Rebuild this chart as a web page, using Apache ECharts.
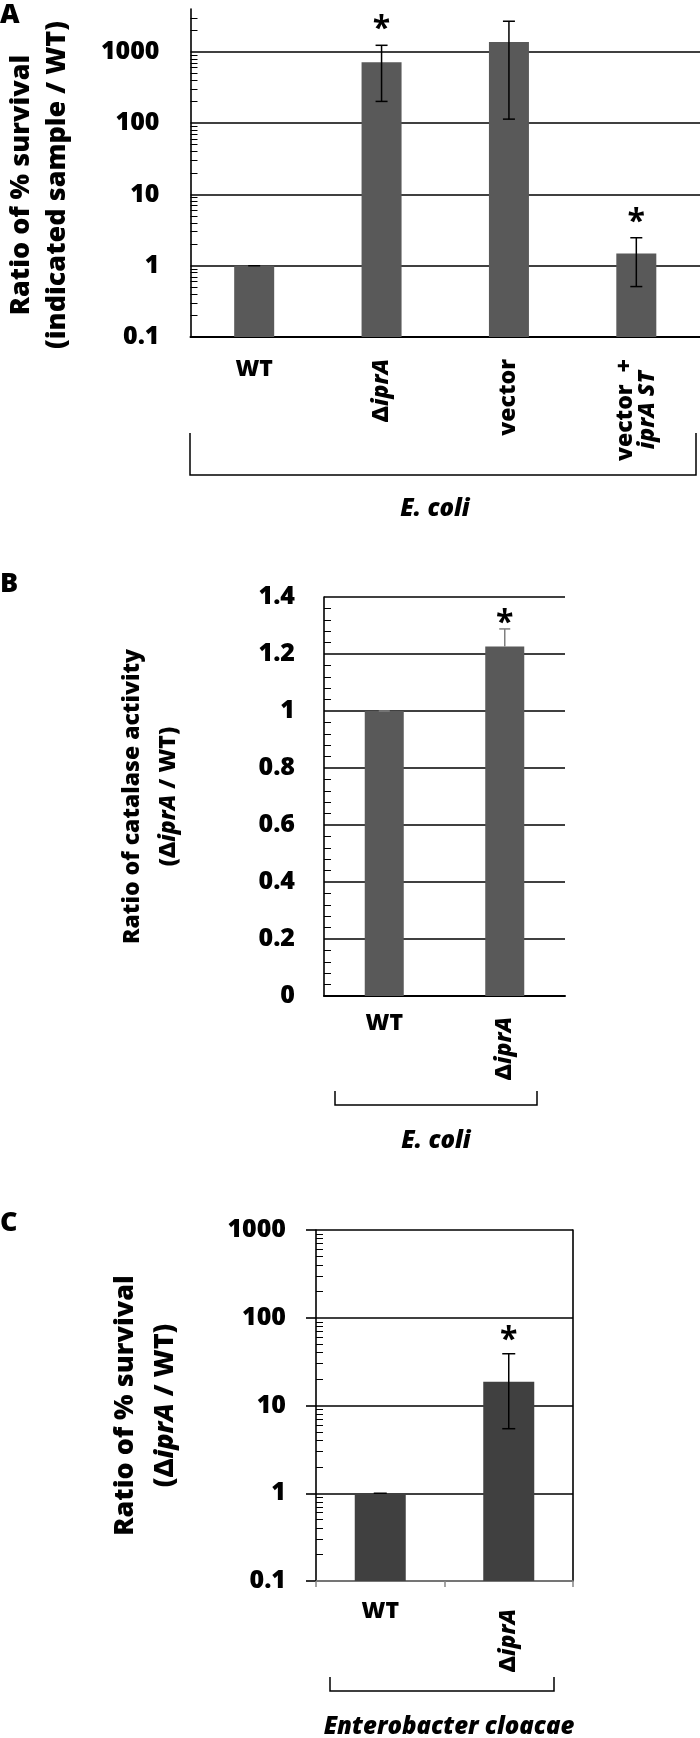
<!DOCTYPE html>
<html><head><meta charset="utf-8">
<script src="https://cdn.jsdelivr.net/npm/echarts@6/dist/echarts.min.js"></script>
<style>html,body{margin:0;padding:0;background:#fff}#c{width:700px;height:1738px}</style>
</head><body><div id="c"></div>
<script>
// ---------- Panel A data ----------
const catsA = ['WT', 'ΔiprA', 'vector', 'vector + iprA ST'];
const valsA = [1, 714, 1381, 1.49];
const lowA = [1, 202, 114, 0.51];
const highA = [1, 1238, 2694, 2.47];
const sigA = [false, true, false, true];
const yTicksA = [0.1, 1, 10, 100, 1000];
const yMaxA = 4000;
// ---------- Panel B data ----------
const catsB = ['WT', 'ΔiprA'];
const valsB = [1, 1.226];
const lowB = [1, 1.226];
const highB = [1, 1.288];
const sigB = [false, true];
const yTicksB = [0, 0.2, 0.4, 0.6, 0.8, 1, 1.2, 1.4];
// ---------- Panel C data ----------
const catsC = ['WT', 'ΔiprA'];
const valsC = [1, 18.7];
const lowC = [1, 5.44];
const highC = [1, 38.9];
const sigC = [false, true];
const yTicksC = [0.1, 1, 10, 100, 1000];

const FONT = '"Open Sans", "Liberation Sans", sans-serif';
const W = 800;
const BLACK = '#000';

function richSet(size, lh) {
  return {
    n: {fontSize: size, fontWeight: W, fontFamily: FONT, color: BLACK, align: 'center', lineHeight: lh},
    i: {fontSize: size, fontWeight: W, fontStyle: 'italic', fontFamily: FONT, color: BLACK, align: 'center', lineHeight: lh}
  };
}
function catRich(cat) {
  if (cat.indexOf(' + ') >= 0) {
    const parts = cat.split(' + ');
    return '{n|' + parts[0] + '  +}\n{i|' + parts[1] + '}';
  }
  if (cat.charAt(0) === 'Δ') return '{n|Δ}{i|' + cat.slice(1) + '}';
  return '{n|' + cat + '}';
}
function tickFmt(ticks) {
  return function (v) {
    const t = ticks.find(function (t) { return Math.abs(t - v) <= Math.abs(t) * 1e-6 + 1e-12; });
    return t === undefined ? '' : String(t);
  };
}
function errData(vals, lo, hi, sig) {
  return vals.map(function (v, i) { return [i, lo[i], hi[i], v, sig[i] ? 1 : 0]; });
}
function errRender(cap, color, width, starGap, starSize) {
  return function (params, api) {
    const i = api.value(0), lo = api.value(1), hi = api.value(2), v = api.value(3), s = api.value(4);
    const pLo = api.coord([i, lo]);
    const pHi = api.coord([i, hi]);
    const x = pHi[0];
    const st = {stroke: color, lineWidth: width};
    const children = [
      {type: 'line', shape: {x1: x, y1: pLo[1], x2: x, y2: pHi[1]}, style: st},
      {type: 'line', shape: {x1: x - cap / 2, y1: pHi[1], x2: x + cap / 2, y2: pHi[1]}, style: st}
    ];
    if (lo < v) children.push({type: 'line', shape: {x1: x - cap / 2, y1: pLo[1], x2: x + cap / 2, y2: pLo[1]}, style: st});
    if (s) children.push({type: 'text', style: {text: '*', x: x, y: pHi[1] - starGap, font: 'bold ' + starSize + 'px ' + FONT, fill: BLACK, align: 'center', verticalAlign: 'middle', textAlign: 'center', textVerticalAlign: 'middle'}});
    return {type: 'group', children: children};
  };
}

const tickLabelStyle = {fontSize: 25, fontWeight: W, fontFamily: FONT, color: BLACK};
const catStyle = {fontSize: 23, fontWeight: W, fontFamily: FONT, color: BLACK};

function xAxesFor(gridIndex, cats, lineColor, showTick, marginH, marginR, lineW) {
  return [
    {gridIndex: gridIndex, type: 'category', data: cats, position: 'bottom',
     axisLine: {show: true, lineStyle: {color: lineColor, width: lineW}},
     axisTick: {show: showTick, length: 6, lineStyle: {color: lineColor, width: 1.5}},
     axisLabel: Object.assign({interval: 0, rotate: 0, margin: marginH,
       formatter: function (v, i) { return i === 0 ? v : ''; }}, catStyle)},
    {gridIndex: gridIndex, type: 'category', data: cats, position: 'bottom',
     axisLine: {show: false}, axisTick: {show: false},
     axisLabel: Object.assign({interval: 0, rotate: 90, margin: marginR,
       formatter: function (v, i) { return i === 0 ? '' : catRich(v); },
       rich: richSet(23, 22)}, catStyle)}
  ];
}

const option = {
  animation: false,
  backgroundColor: '#fff',
  grid: [
    {left: 189, top: 9, width: 512, height: 328},
    {left: 324, top: 597, width: 241, height: 399},
    {left: 316, top: 1230, width: 257, height: 351}
  ],
  xAxis: [].concat(
    xAxesFor(0, catsA, BLACK, false, 21, 22, 2),
    xAxesFor(1, catsB, BLACK, false, 16, 21, 2),
    xAxesFor(2, catsC, '#868686', true, 19, 28, 1.5)
  ),
  yAxis: [
    {gridIndex: 0, type: 'log', logBase: 10, min: yTicksA[0], max: yMaxA, startValue: yTicksA[0],
     axisLine: {show: true, lineStyle: {color: BLACK, width: 1.6}},
     axisTick: {show: false, inside: true},
     minorTick: {show: true, splitNumber: 9, length: 7, lineStyle: {color: BLACK, width: 1}},
     splitLine: {show: true, showMaxLine: false, lineStyle: {color: BLACK, width: 1.6}},
     axisLabel: Object.assign({margin: 31, formatter: tickFmt(yTicksA)}, tickLabelStyle),
     name: '{n|Ratio of % survival}\n{n|(indicated sample / WT)}',
     nameLocation: 'middle', nameRotate: 90, nameGap: 115,
     nameTextStyle: {rich: richSet(27, 36), padding: [0, 24, 0, 0]}},
    {gridIndex: 1, type: 'value', min: yTicksB[0], max: yTicksB[yTicksB.length - 1], interval: 0.2,
     axisLine: {show: true, lineStyle: {color: BLACK, width: 1.6}},
     axisTick: {show: false, inside: true},
     minorTick: {show: true, splitNumber: 5, length: 7, lineStyle: {color: BLACK, width: 1}},
     splitLine: {show: true, lineStyle: {color: BLACK, width: 1.6}},
     axisLabel: Object.assign({margin: 29, formatter: tickFmt(yTicksB)}, tickLabelStyle),
     name: '{n|Ratio of catalase activity}\n{n|(Δ}{i|iprA}{n| / WT)}',
     nameLocation: 'middle', nameRotate: 90, nameGap: 138,
     nameTextStyle: {rich: richSet(23, 36)}},
    {gridIndex: 2, type: 'log', logBase: 10, min: yTicksC[0], max: yTicksC[yTicksC.length - 1], startValue: yTicksC[0],
     axisLine: {show: true, lineStyle: {color: BLACK, width: 1.6}},
     axisTick: {show: true, length: 10, lineStyle: {color: BLACK, width: 1.6}},
     splitLine: {show: true, lineStyle: {color: BLACK, width: 1.6}},
     axisLabel: Object.assign({margin: 30, formatter: tickFmt(yTicksC)}, tickLabelStyle),
     name: '{n|Ratio of % survival}\n{n|(Δ}{i|iprA}{n| / WT)}',
     nameLocation: 'middle', nameRotate: 90, nameGap: 131,
     nameTextStyle: {rich: richSet(27, 40)}},
    {gridIndex: 2, type: 'log', logBase: 10, position: 'left', min: yTicksC[0], max: yTicksC[yTicksC.length - 1],
     axisLine: {show: false}, axisTick: {show: false, inside: true},
     minorTick: {show: true, splitNumber: 9, length: 7, lineStyle: {color: BLACK, width: 1}},
     splitLine: {show: false}, axisLabel: {show: false}},
    {gridIndex: 2, type: 'log', logBase: 10, position: 'right', min: yTicksC[0], max: yTicksC[yTicksC.length - 1],
     axisLine: {show: true, lineStyle: {color: BLACK, width: 1.6}}, axisTick: {show: false},
     splitLine: {show: false}, axisLabel: {show: false}}
  ],
  series: [
    {type: 'bar', xAxisIndex: 0, yAxisIndex: 0, data: valsA, barWidth: 40, itemStyle: {color: '#595959'}},
    {type: 'custom', xAxisIndex: 0, yAxisIndex: 0, data: errData(valsA, lowA, highA, sigA), encode: {x: 0, y: [1, 2]}, z: 5,
     renderItem: errRender(12, BLACK, 1.5, 15, 32)},
    {type: 'bar', xAxisIndex: 2, yAxisIndex: 1, data: valsB, barWidth: 39, itemStyle: {color: '#595959'}},
    {type: 'custom', xAxisIndex: 2, yAxisIndex: 1, data: errData(valsB, lowB, highB, sigB), encode: {x: 0, y: [1, 2]}, z: 5,
     renderItem: errRender(11, '#7f7f7f', 1.5, 5, 32)},
    {type: 'bar', xAxisIndex: 4, yAxisIndex: 2, data: valsC, barWidth: 51, itemStyle: {color: '#404040'}},
    {type: 'custom', xAxisIndex: 4, yAxisIndex: 2, data: errData(valsC, lowC, highC, sigC), encode: {x: 0, y: [1, 2]}, z: 5,
     renderItem: errRender(13, BLACK, 1.5, 13, 32)}
  ],
  graphic: [
    {type: 'text', left: 0, top: 2, style: {text: 'A', font: W + ' 27px ' + FONT, fill: BLACK}},
    {type: 'text', left: 0, top: 571, style: {text: 'B', font: W + ' 27px ' + FONT, fill: BLACK}},
    {type: 'text', left: 0, top: 1210, style: {text: 'C', font: W + ' 27px ' + FONT, fill: BLACK}},
    {type: 'polyline', shape: {points: [[190, 433], [190, 475], [696, 475], [696, 433]]}, style: {stroke: BLACK, lineWidth: 1.5, fill: null}},
    {type: 'polyline', shape: {points: [[335, 1091], [335, 1105], [537, 1105], [537, 1091]]}, style: {stroke: BLACK, lineWidth: 1.5, fill: null}},
    {type: 'polyline', shape: {points: [[330, 1677], [330, 1691], [554, 1691], [554, 1677]]}, style: {stroke: BLACK, lineWidth: 1.5, fill: null}},
    {type: 'text', x: 435, y: 509, style: {text: 'E. coli', font: 'italic ' + W + ' 24px ' + FONT, fill: BLACK, textAlign: 'center', textVerticalAlign: 'middle', align: 'center', verticalAlign: 'middle'}},
    {type: 'text', x: 436, y: 1141, style: {text: 'E. coli', font: 'italic ' + W + ' 24px ' + FONT, fill: BLACK, textAlign: 'center', textVerticalAlign: 'middle', align: 'center', verticalAlign: 'middle'}},
    {type: 'text', x: 449, y: 1727, style: {text: 'Enterobacter cloacae', font: 'italic ' + W + ' 24px ' + FONT, fill: BLACK, textAlign: 'center', textVerticalAlign: 'middle', align: 'center', verticalAlign: 'middle'}}
  ]
};
const chart = echarts.init(document.getElementById('c'), null, {renderer: 'canvas', width: 700, height: 1738});
chart.setOption(option);
</script>
</body></html>
